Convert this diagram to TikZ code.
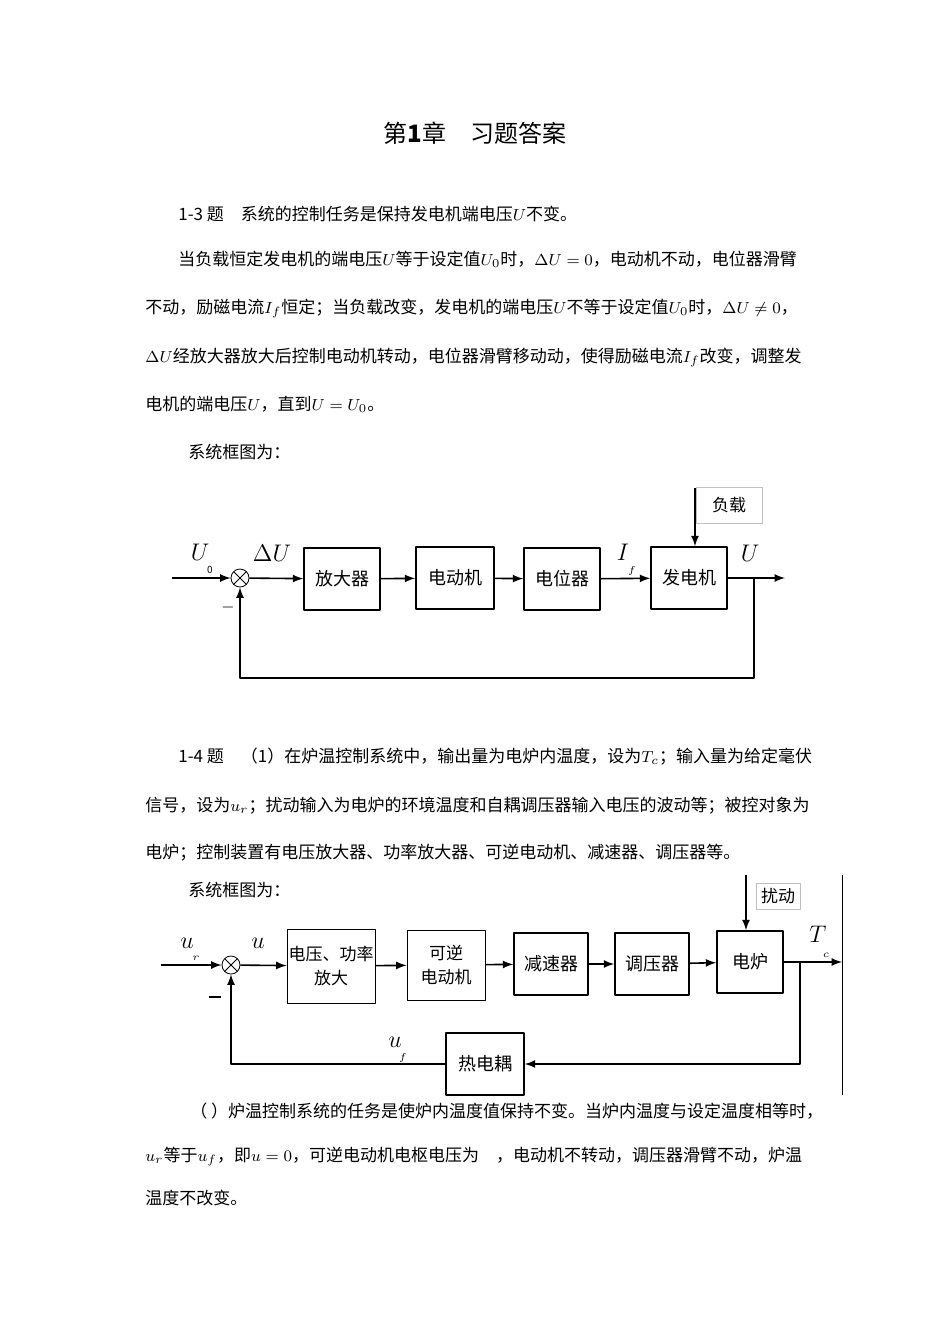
\documentclass[tikz,border=0pt]{standalone}
\usepackage{fontspec}
\setmainfont{Noto Sans CJK SC}
\usetikzlibrary{positioning}
\begin{document}
\fontsize{8.5}{10}\selectfont
\begin{tikzpicture}[x=0.5pt,y=-0.5pt,>=latex,line join=round,
  blk/.style={draw,thick,inner sep=0pt,font=\fontsize{9}{11}\selectfont},
  sum/.style={draw,circle,inner sep=0pt,minimum size=9pt,path picture={
    \draw (path picture bounding box.north west)--(path picture bounding box.south east)
          (path picture bounding box.north east)--(path picture bounding box.south west);}},
  txt/.style={anchor=base west,inner sep=0pt},
  lbl/.style={inner sep=0pt,font=\fontsize{13}{13}\selectfont},
  sig/.style={->,thick}]
\useasboundingbox (0,0) rectangle (950,1344);
\node[inner sep=0pt,font=\fontsize{12}{12}\selectfont] (title) at (475,133) {第\textbf{1}章\quad 习题答案};
\node[txt] (l1) at (178,220) {1-3 题\quad 系统的控制任务是保持发电机端电压$U$不变。};
\node[txt] (l2) at (178,265) {当负载恒定发电机的端电压$U$等于设定值$U_0$时，$\Delta U=0$，电动机不动，电位器滑臂};
\node[txt] (l3) at (145,313) {不动，励磁电流$I_f$恒定；当负载改变，发电机的端电压$U$不等于设定值$U_0$时，$\Delta U\neq0$，};
\node[txt] (l4) at (145,362) {$\Delta U$经放大器放大后控制电动机转动，电位器滑臂移动动，使得励磁电流$I_f$改变，调整发};
\node[txt] (l5) at (145,410) {电机的端电压$U$，直到$U=U_0$。};
\node[txt] (l6) at (188,458) {系统框图为：};
% diagram 1-3
\node[sum] (s1) at (240,578) {};
\node[blk,minimum width=38pt,minimum height=31pt] (amp) at (342,579) {放大器};
\node[blk,minimum width=39pt,minimum height=31pt] (mot) at (455,578) {电动机};
\node[blk,minimum width=38pt,minimum height=31pt] (pot) at (562,579) {电位器};
\node[blk,minimum width=38pt,minimum height=31pt] (gen) at (689,578) {发电机};
\node[draw=gray!50,minimum width=33pt,minimum height=18pt,inner sep=0pt] (load) at (729,505) {负载};
\coordinate (in1) at (172,578);
\coordinate (out1) at (785,578);
\coordinate (fb1) at (754,578);
\coordinate (ld) at (695,488);
\draw[sig] (in1) -- (s1);
\draw[sig] (s1) -- (amp);
\draw[sig] (amp) -- (mot);
\draw[sig] (mot) -- (pot);
\draw[sig] (pot) -- (gen);
\draw[sig] (gen) -- (out1);
\draw[sig] (ld) -- (ld |- gen.north);
\draw[sig] (fb1) |- (240,678) -- (s1);
\node[lbl] at (200,552) {$U$};
\node[inner sep=0pt,font=\tiny] at (210,570) {0};
\node[lbl] at (272,553) {$\Delta U$};
\node[lbl] at (623,552) {$I$};
\node[inner sep=0pt,font=\tiny] at (632,571) {$f$};
\node[lbl] at (750,553) {$U$};
\node[inner sep=0pt] at (228,607) {$-$};
% text 1-4
\node[txt] (l7) at (178,762) {1-4 题\quad（1）在炉温控制系统中，输出量为电炉内温度，设为$T_c$；输入量为给定毫伏};
\node[txt] (l8) at (145,811) {信号，设为$u_r$；扰动输入为电炉的环境温度和自耦调压器输入电压的波动等；被控对象为};
\node[txt] (l9) at (145,858) {电炉；控制装置有电压放大器、功率放大器、可逆电动机、减速器、调压器等。};
\node[txt] (l10) at (188,896) {系统框图为：};
% diagram 1-4
\node[sum] (s2) at (231,965) {};
\node[draw,minimum width=44pt,minimum height=37pt,inner sep=0pt,align=center] (vamp) at (331,966) {电压、功率\\[2pt]放大};
\node[draw,minimum width=39pt,minimum height=35pt,inner sep=0pt,align=center] (rmot) at (446,965) {可逆\\[2pt]电动机};
\node[blk,minimum width=37pt,minimum height=31pt] (red) at (551,964) {减速器};
\node[blk,minimum width=37pt,minimum height=31pt] (reg) at (652,964) {调压器};
\node[blk,minimum width=33pt,minimum height=31pt] (oven) at (750,962) {电炉};
\node[blk,minimum width=39pt,minimum height=31pt] (tc) at (485,1064) {热电耦};
\node[draw=gray!50,minimum width=22pt,minimum height=13pt,inner sep=0pt] (dist) at (778,896) {扰动};
\coordinate (in2) at (161,965);
\coordinate (out2) at (842,962);
\coordinate (fb2) at (800,962);
\coordinate (dd) at (746,875);
\draw[sig] (in2) -- (s2);
\draw[sig] (s2) -- (vamp);
\draw[sig] (vamp) -- (rmot);
\draw[sig] (rmot) -- (red);
\draw[sig] (red) -- (reg);
\draw[sig] (reg) -- (oven);
\draw[sig] (oven) -- (out2);
\draw[sig] (dd) -- (dd |- oven.north);
\draw[sig] (fb2) |- (tc);
\draw[sig] (tc) -| (s2);
\draw (842,875) -- (842,1095);
\node[lbl] at (187,943) {$u$};
\node[inner sep=0pt,font=\tiny] at (196,958) {$r$};
\node[lbl] at (258,943) {$u$};
\node[lbl] at (818,934) {$T$};
\node[inner sep=0pt,font=\tiny] at (826,955) {$c$};
\node[lbl] at (395,1042) {$u$};
\node[inner sep=0pt,font=\tiny] at (403,1058) {$f$};
\draw[line width=1.4pt] (209,997) -- (221,997);
% text after
\node[txt] (l11) at (190,1117) {（\ ）炉温控制系统的任务是使炉内温度值保持不变。当炉内温度与设定温度相等时，};
\node[txt] (l12) at (145,1161) {$u_r$等于$u_f$，即$u=0$，可逆电动机电枢电压为\quad，电动机不转动，调压器滑臂不动，炉温};
\node[txt] (l13) at (145,1204) {温度不改变。};
\end{tikzpicture}
\end{document}
